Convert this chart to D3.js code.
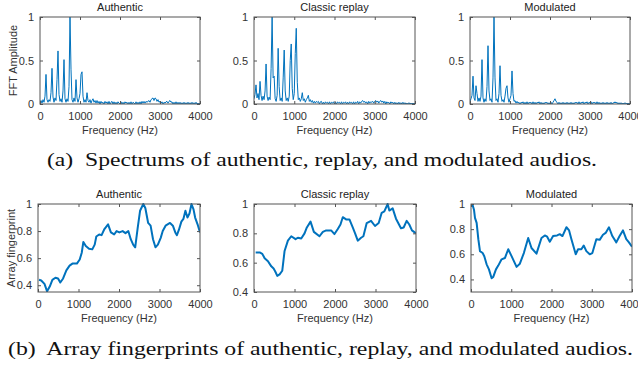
<!DOCTYPE html>
<html>
<head>
<meta charset="utf-8">
<script src="https://cdn.jsdelivr.net/npm/d3@7"></script>
<style>
  html, body { margin: 0; padding: 0; background: #fff; }
  svg { display: block; }
  text { font-family: "Liberation Sans", Arial, Helvetica, sans-serif; }
</style>
</head>
<body>
<svg id="chart" width="638" height="366"></svg>
<script>
// ---------------- DATA ----------------
const panelTitles = ["Authentic", "Classic replay", "Modulated"];
const freqTicks = [0, 1000, 2000, 3000, 4000];
const spectrumYTicks = [0, 0.5, 1];
const fingerprintYTicks = [0.4, 0.6, 0.8, 1];
const fingerprintYMin = [0.35, 0.4, 0.3];

// Spectrum amplitude sampled every 25 Hz (0..4000 Hz)
const spectrumAuthentic = [
  0.01,0.04,0.01,0.05,0.02,0.09,0.34,0.05,0.02,0.05,
  0.03,0.13,0.41,0.08,0.02,0.07,0.04,0.28,0.61,0.11,
  0.03,0.06,0.02,0.15,0.51,0.06,0.02,0.06,0.03,0.20,
  1.00,0.40,0.05,0.02,0.07,0.03,0.28,0.07,0.02,0.06,
  0.12,0.34,0.37,0.09,0.02,0.05,0.02,0.13,0.04,0.02,
  0.05,0.01,0.04,0.06,0.02,0.04,0.01,0.04,0.01,0.03,
  0.00,0.03,0.01,0.02,0.00,0.03,0.01,0.025,0.00,0.03,
  0.00,0.02,0.03,0.00,0.025,0.00,0.02,0.00,0.025,0.01,
  0.00,0.025,0.00,0.02,0.00,0.025,0.01,0.02,0.00,0.02,
  0.00,0.025,0.00,0.02,0.01,0.00,0.025,0.00,0.02,0.00,
  0.025,0.00,0.03,0.01,0.03,0.01,0.03,0.02,0.03,0.04,
  0.02,0.05,0.06,0.07,0.04,0.07,0.06,0.03,0.05,0.02,
  0.03,0.01,0.025,0.00,0.02,0.01,0.025,0.03,0.01,0.03,
  0.04,0.02,0.025,0.00,0.02,0.00,0.025,0.00,0.02,0.00,
  0.02,0.00,0.015,0.00,0.02,0.00,0.015,0.00,0.02,0.00,
  0.015,0.00,0.02,0.00,0.015,0.00,0.02,0.00,0.01,0.00,0.01
];
const spectrumReplay = [
  0.06,0.11,0.22,0.07,0.12,0.05,0.26,0.10,0.04,0.09,
  0.05,0.15,0.46,0.09,0.04,0.08,0.05,0.41,1.00,0.30,
  0.32,0.06,0.03,0.10,0.64,0.20,0.04,0.07,0.03,0.30,
  0.62,0.15,0.04,0.07,0.03,0.09,0.50,0.69,0.18,0.05,
  0.12,0.58,0.87,0.25,0.05,0.07,0.03,0.06,0.13,0.04,
  0.06,0.02,0.05,0.07,0.10,0.03,0.05,0.02,0.04,0.01,
  0.03,0.01,0.03,0.02,0.03,0.00,0.025,0.03,0.00,0.02,
  0.00,0.025,0.01,0.02,0.00,0.025,0.00,0.02,0.01,0.025,
  0.00,0.02,0.00,0.025,0.01,0.02,0.00,0.025,0.00,0.02,
  0.01,0.025,0.00,0.02,0.00,0.025,0.01,0.02,0.00,0.025,
  0.00,0.02,0.01,0.03,0.00,0.025,0.01,0.03,0.04,0.02,
  0.03,0.01,0.025,0.00,0.03,0.01,0.025,0.02,0.03,0.01,
  0.03,0.04,0.02,0.035,0.01,0.03,0.04,0.02,0.035,0.01,
  0.03,0.00,0.025,0.01,0.02,0.00,0.025,0.01,0.02,0.00,
  0.02,0.00,0.015,0.00,0.02,0.00,0.015,0.00,0.02,0.00,
  0.015,0.00,0.01,0.00,0.015,0.00,0.01,0.00,0.01,0.00,0.01
];
const spectrumModulated = [
  0.03,0.06,0.10,0.32,0.07,0.04,0.21,0.12,0.03,0.07,
  0.03,0.09,0.51,0.07,0.02,0.06,0.03,0.20,0.67,0.15,
  0.04,0.06,0.02,0.30,1.00,0.30,0.04,0.06,0.02,0.12,
  0.44,0.10,0.03,0.05,0.02,0.09,0.18,0.21,0.07,0.02,
  0.06,0.10,0.38,0.12,0.03,0.04,0.01,0.03,0.01,0.02,
  0.00,0.02,0.01,0.025,0.00,0.02,0.00,0.025,0.00,0.02,
  0.01,0.02,0.00,0.025,0.00,0.02,0.00,0.02,0.01,0.025,
  0.00,0.02,0.00,0.015,0.00,0.02,0.01,0.02,0.00,0.015,
  0.00,0.02,0.00,0.02,0.04,0.06,0.03,0.02,0.00,0.02,
  0.00,0.015,0.00,0.02,0.00,0.015,0.00,0.02,0.00,0.015,
  0.00,0.02,0.00,0.015,0.00,0.02,0.01,0.02,0.00,0.025,
  0.00,0.02,0.01,0.025,0.00,0.02,0.01,0.025,0.00,0.02,
  0.01,0.025,0.00,0.02,0.01,0.02,0.00,0.025,0.00,0.02,
  0.00,0.015,0.00,0.02,0.00,0.015,0.00,0.02,0.00,0.015,
  0.00,0.02,0.00,0.015,0.01,0.025,0.01,0.02,0.00,0.015,
  0.00,0.015,0.00,0.01,0.00,0.015,0.00,0.01,0.00,0.01,0.00
];

// Array fingerprint: [frequency Hz, value]
const fingerprintAuthentic = [
  [25,0.44],[80,0.435],[160,0.41],[225,0.355],[290,0.39],[355,0.44],[430,0.455],[495,0.45],
  [550,0.42],[620,0.45],[700,0.51],[780,0.545],[850,0.56],[960,0.56],[1030,0.59],[1080,0.64],
  [1120,0.72],[1180,0.69],[1260,0.67],[1340,0.665],[1400,0.70],[1440,0.76],[1510,0.775],[1570,0.77],
  [1640,0.815],[1730,0.85],[1800,0.79],[1880,0.775],[1940,0.80],[2010,0.79],[2090,0.80],[2160,0.785],
  [2230,0.80],[2290,0.74],[2350,0.70],[2400,0.68],[2460,0.82],[2520,0.95],[2600,1.0],[2650,0.97],
  [2720,0.86],[2780,0.84],[2840,0.74],[2900,0.68],[2960,0.70],[3030,0.75],[3080,0.80],[3150,0.84],
  [3260,0.86],[3330,0.84],[3390,0.79],[3430,0.77],[3480,0.81],[3540,0.87],[3590,0.89],[3640,0.95],
  [3690,0.90],[3740,0.93],[3790,1.0],[3840,0.96],[3880,0.90],[3940,0.85],[4000,0.79]
];
const fingerprintReplay = [
  [41,0.67],[140,0.67],[205,0.66],[263,0.63],[345,0.61],[427,0.575],[484,0.56],[525,0.54],
  [575,0.51],[632,0.52],[698,0.545],[755,0.68],[837,0.75],[920,0.78],[1026,0.76],[1084,0.77],
  [1166,0.765],[1248,0.80],[1305,0.84],[1396,0.88],[1478,0.81],[1617,0.78],[1700,0.81],[1782,0.82],
  [1905,0.82],[1987,0.795],[2069,0.83],[2135,0.86],[2192,0.91],[2274,0.895],[2356,0.895],[2438,0.84],
  [2496,0.80],[2562,0.75],[2644,0.77],[2701,0.78],[2783,0.87],[2890,0.885],[2988,0.85],[3079,0.87],
  [3153,0.94],[3218,0.95],[3300,1.0],[3341,0.955],[3424,0.97],[3506,0.90],[3629,0.835],[3695,0.84],
  [3769,0.885],[3834,0.86],[3900,0.82],[4000,0.80]
];
const fingerprintModulated = [
  [33,1.0],[74,0.955],[99,0.89],[140,0.85],[182,0.72],[223,0.625],[289,0.61],[330,0.585],
  [388,0.52],[446,0.48],[512,0.41],[553,0.42],[620,0.48],[677,0.51],[760,0.56],[842,0.57],
  [925,0.64],[1008,0.585],[1132,0.50],[1214,0.525],[1313,0.61],[1421,0.73],[1503,0.65],[1627,0.605],
  [1751,0.73],[1834,0.75],[1892,0.74],[1958,0.70],[2040,0.745],[2139,0.75],[2205,0.76],[2272,0.745],
  [2371,0.815],[2437,0.79],[2495,0.72],[2602,0.60],[2660,0.64],[2742,0.64],[2800,0.67],[2866,0.625],
  [2949,0.60],[3015,0.61],[3114,0.72],[3197,0.715],[3279,0.755],[3345,0.77],[3428,0.815],[3511,0.745],
  [3610,0.695],[3692,0.745],[3775,0.79],[3858,0.72],[3924,0.695],[4000,0.66]
];

const captionA = "(a)  Spectrums of authentic, replay, and modulated audios.";
const captionB = "(b)  Array fingerprints of authentic, replay, and modulated audios.";

// ---------------- DRAWING ----------------
const svg = d3.select("#chart");
const lineColor = "#0072BD";
const axisColor = "#555";
const textColor = "#333";

const spectrumFreqs = d3.range(0, 4001, 25);
const spectra = [spectrumAuthentic, spectrumReplay, spectrumModulated]
  .map(arr => arr.map((v, i) => [spectrumFreqs[i], v]));
const fingerprints = [fingerprintAuthentic, fingerprintReplay, fingerprintModulated];

const topBoxes = [
  {x0: 40, x1: 200, y0: 17, y1: 104},
  {x0: 254, x1: 415, y0: 17, y1: 104},
  {x0: 470, x1: 630, y0: 17, y1: 104}
];
const botBoxes = [
  {x0: 38, x1: 200, y0: 204, y1: 292},
  {x0: 254, x1: 416, y0: 204, y1: 292},
  {x0: 471, x1: 632, y0: 204, y1: 292}
];

let clipId = 0;
function drawPanel(box, data, yDomain, yTicks, yFmt, title, yLabel, lineW) {
  const x = d3.scaleLinear().domain([0, 4000]).range([box.x0, box.x1]);
  const y = d3.scaleLinear().domain(yDomain).range([box.y1, box.y0]);
  const g = svg.append("g");

  const id = "clip" + (clipId++);
  svg.append("clipPath").attr("id", id).append("rect")
    .attr("x", box.x0).attr("y", box.y0 - 1)
    .attr("width", box.x1 - box.x0).attr("height", box.y1 - box.y0 + 1);

  g.append("path")
    .datum(data)
    .attr("clip-path", `url(#${id})`)
    .attr("fill", "none")
    .attr("stroke", lineColor)
    .attr("stroke-width", lineW)
    .attr("stroke-linejoin", "round")
    .attr("d", d3.line().x(d => x(d[0])).y(d => y(d[1])));

  const styleAxis = sel => {
    sel.select(".domain").remove();
    sel.selectAll(".tick line").attr("stroke", axisColor);
    sel.selectAll(".tick text").attr("fill", textColor).style("font-size", "11px")
      .style("font-family", '"Liberation Sans", Arial, sans-serif');
  };

  g.append("g").attr("transform", `translate(0,${box.y1})`)
    .call(d3.axisBottom(x).tickValues(freqTicks).tickSize(-3).tickPadding(8).tickFormat(d3.format("d")))
    .call(styleAxis);
  g.append("g").attr("transform", `translate(0,${box.y0})`)
    .call(d3.axisTop(x).tickValues(freqTicks).tickSize(-3).tickFormat(""))
    .call(styleAxis);
  g.append("g").attr("transform", `translate(${box.x0},0)`)
    .call(d3.axisLeft(y).tickValues(yTicks).tickSize(-3).tickPadding(6).tickFormat(yFmt))
    .call(styleAxis);
  g.append("g").attr("transform", `translate(${box.x1},0)`)
    .call(d3.axisRight(y).tickValues(yTicks).tickSize(-3).tickFormat(""))
    .call(styleAxis);

  g.append("rect")
    .attr("x", box.x0).attr("y", box.y0)
    .attr("width", box.x1 - box.x0).attr("height", box.y1 - box.y0)
    .attr("fill", "none").attr("stroke", axisColor).attr("stroke-width", 1);

  g.append("text")
    .attr("x", (box.x0 + box.x1) / 2).attr("y", box.y0 - 6)
    .attr("text-anchor", "middle").attr("fill", "#222")
    .style("font-size", "11px").text(title);

  g.append("text")
    .attr("x", (box.x0 + box.x1) / 2).attr("y", box.y1 + 30)
    .attr("text-anchor", "middle").attr("fill", textColor)
    .style("font-size", "11px").text("Frequency (Hz)");

  if (yLabel) {
    g.append("text")
      .attr("transform", `translate(${box.x0 - 23},${(box.y0 + box.y1) / 2}) rotate(-90)`)
      .attr("text-anchor", "middle").attr("fill", textColor)
      .style("font-size", "11px").text(yLabel);
  }
}

const fmtSpec = d => d === 0.5 ? "0.5" : d3.format("d")(d);
const fmtFp = d => d === 1 ? "1" : d3.format(".1f")(d);

topBoxes.forEach((b, i) => drawPanel(b, spectra[i], [0, 1], spectrumYTicks, fmtSpec,
  panelTitles[i], i === 0 ? "FFT Amplitude" : null, 1));
botBoxes.forEach((b, i) => drawPanel(b, fingerprints[i], [fingerprintYMin[i], 1], fingerprintYTicks, fmtFp,
  panelTitles[i], i === 0 ? "Array fingerprint" : null, 2));

svg.append("text")
  .attr("x", 47).attr("y", 166)
  .attr("textLength", 550).attr("lengthAdjust", "spacingAndGlyphs")
  .style("font-family", '"Liberation Serif", "DejaVu Serif", serif')
  .style("font-size", "19px").style("white-space", "pre")
  .attr("fill", "#111").text(captionA);

svg.append("text")
  .attr("x", 8).attr("y", 355)
  .attr("textLength", 625).attr("lengthAdjust", "spacingAndGlyphs")
  .style("font-family", '"Liberation Serif", "DejaVu Serif", serif')
  .style("font-size", "19px").style("white-space", "pre")
  .attr("fill", "#111").text(captionB);
</script>
</body>
</html>
